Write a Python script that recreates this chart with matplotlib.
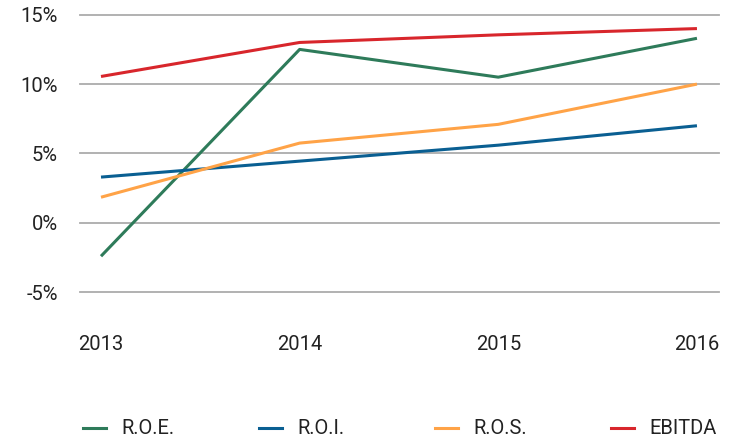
import numpy as np
import matplotlib
matplotlib.use('Agg')
from matplotlib import pyplot as plt
from matplotlib.lines import Line2D

# chart data
years = ['2013', '2014', '2015', '2016']
roe = [-2.4, 12.5, 10.5, 13.3]
roi = [3.3, 4.45, 5.6, 7.0]
ros = [1.85, 5.75, 7.1, 10.0]
ebitda = [10.55, 13.0, 13.55, 14.0]
series_names = ['R.O.E.', 'R.O.I.', 'R.O.S.', 'EBITDA']
y_ticks = [-5, 0, 5, 10, 15]

colors = ['#2e7b5a', '#0a5f92', '#ffa347', '#d8262c']
text_col = '#222222'
grid_col = '#ababab'

plt.rcParams['font.family'] = ['Roboto', 'DejaVu Sans']

fig = plt.figure(figsize=(7.34, 4.40), dpi=100)
ax = fig.add_axes([80 / 734, 1 - 292.3 / 440, 639 / 734, 277.6 / 440])

x = np.arange(len(years))
for vals, c in zip([roe, roi, ros, ebitda], colors):
    ax.plot(x, vals, color=c, lw=2.2, solid_capstyle='butt', zorder=3)

for t in y_ticks:
    ax.axhline(t, color=grid_col, lw=1.3, zorder=1, clip_on=False)

ax.set_xlim(-0.1057, 3.111)
ax.set_ylim(-5, 15)
ax.set_xticks(x)
ax.set_xticklabels(years)
ax.set_yticks(y_ticks)
ax.set_yticklabels(['%d%%' % t for t in y_ticks])
ax.tick_params(axis='both', length=0, labelsize=14.5, colors=text_col)
ax.tick_params(axis='x', pad=31)
ax.tick_params(axis='y', pad=16)
for s in ax.spines.values():
    s.set_visible(False)

# legend laid out at fixed spacing
for i, (name, c) in enumerate(zip(series_names, colors)):
    x0 = (83 + i * 176) / 734
    fig.add_artist(Line2D([x0, x0 + 23 / 734], [1 - 428 / 440] * 2,
                          color=c, lw=2.2, transform=fig.transFigure))
    fig.text(x0 + 38 / 734, 1 - 428 / 440, name, fontsize=14.5,
             color=text_col, va='center', ha='left')

fig.savefig('out.png', dpi=100)
